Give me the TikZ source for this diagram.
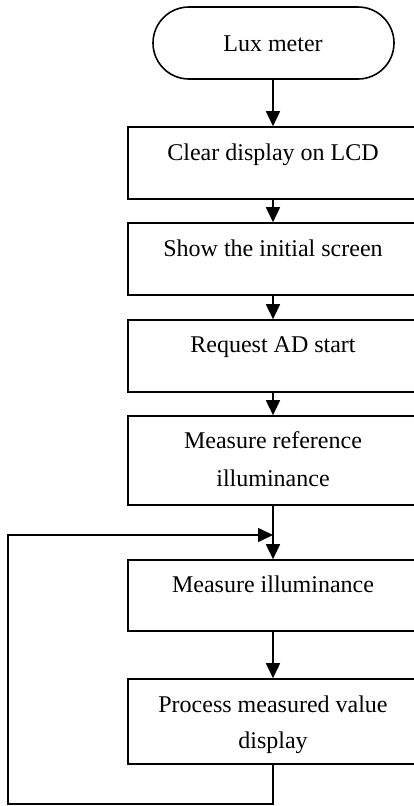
\documentclass[tikz,border=0pt]{standalone}
\usepackage{fontspec}
\setmainfont{Liberation Serif}
\usetikzlibrary{arrows.meta}
\begin{document}
\begin{tikzpicture}[x=1pt,y=-1pt,
  line width=1.6pt,
  procbox/.style={draw,rectangle,minimum width=290pt,inner sep=0pt},
  caption/.style={anchor=base,align=center,inner sep=0pt,font=\fontsize{24}{37}\selectfont},
  flow/.style={-{Triangle[length=15pt,width=14pt]}}]
\useasboundingbox (0,0) rectangle (414,806);
% start terminator
\draw[rounded corners=36pt] (153,7) rectangle (394,79);
\coordinate (start) at (273,79);
\node[caption] (tstart) at (273,51) {Lux meter};
% process boxes
\node[procbox,minimum height=72pt] (b1) at (273,163) {};
\node[procbox,minimum height=72pt] (b2) at (273,259) {};
\node[procbox,minimum height=72pt] (b3) at (273,356) {};
\node[procbox,minimum height=89pt] (b4) at (273,460.5) {};
\node[procbox,minimum height=71pt] (b5) at (273,595.5) {};
\node[procbox,minimum height=85pt] (b6) at (273,721.5) {};
% box texts (base anchor sits on the last line)
\node[caption] (t1) at (273,160) {Clear display on LCD};
\node[caption] (t2) at (273,256) {Show the initial screen};
\node[caption] (t3) at (273,352) {Request AD start};
\node[caption,font=\fontsize{24}{38}\selectfont] (t4) at (273,486) {Measure reference\\illuminance};
\node[caption] (t5) at (273,592) {Measure illuminance};
\node[caption,font=\fontsize{24}{36}\selectfont] (t6) at (273,748) {Process measured value\\display};
% connectors
\draw[flow] (start) -- (b1.north);
\draw[flow] (b1.south) -- (b2.north);
\draw[flow] (b2.south) -- (b3.north);
\draw[flow] (b3.south) -- (b4.north);
\draw[flow] (b4.south) -- (b5.north);
\draw[flow] (b5.south) -- (b6.north);
% loop back
\coordinate (join) at (273,535);
\coordinate (lb) at (273,804);
\coordinate (ll) at (8,804);
\coordinate (lt) at (8,535);
\draw[flow] (b6.south) -- (lb) -- (ll) -- (lt) -- (join);
\end{tikzpicture}
\end{document}
